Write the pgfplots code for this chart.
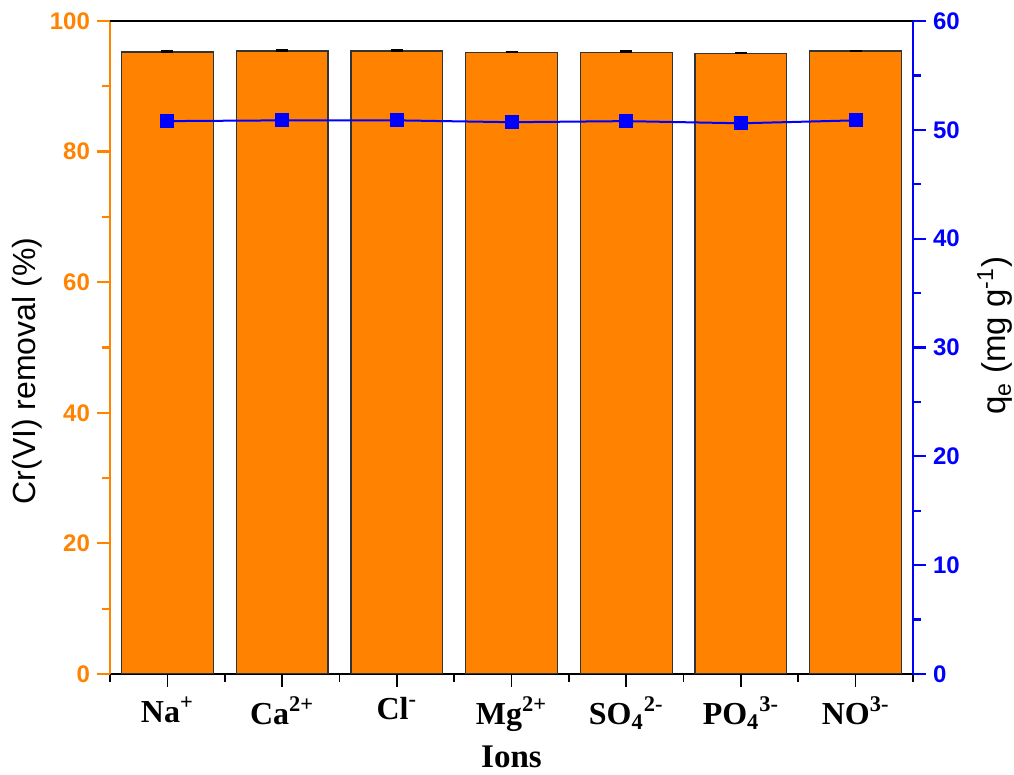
\documentclass[border=0pt]{standalone}
\usepackage{pgfplots}
\pgfplotsset{compat=1.18}
\usepackage{fontspec}
\setmainfont{Liberation Sans}
\newfontfamily\timesfont{Liberation Serif}
\definecolor{barorange}{RGB}{255,131,0}
\definecolor{qblue}{RGB}{0,0,255}
\begin{document}
\begin{tikzpicture}
\pgfplotsset{
  every axis/.append style={
    width=401.5pt, height=326.5pt, scale only axis,
    xmin=-0.5, xmax=6.5,
    /pgf/number format/assume math mode=true,
    tick align=outside,
    major tick length=6.5pt, minor tick length=4pt,
  },
}
\begin{axis}[
  name=main,
  ymin=0, ymax=100,
  ytick={0,20,...,100},
  minor ytick={10,30,50,70,90},
  axis x line*=bottom, axis y line*=left,
  x axis line style={-, black, line width=1pt},
  y axis line style={-, barorange, line width=1pt},
  ytick style={draw=barorange, line width=1.1pt},
  minor tick style={line width=1.1pt},
  xtick style={draw=black, line width=0.8pt},
  yticklabel style={text=barorange, font=\bfseries\fontsize{12}{14}\selectfont},
  xtick={0,...,6},
  minor xtick={-0.5,0.5,...,6.5},
  xticklabels={Na\textsuperscript{+}, Ca\textsuperscript{2+}, Cl\textsuperscript{-}, Mg\textsuperscript{2+}, SO\textsubscript{4}\textsuperscript{2-}, PO\textsubscript{4}\textsuperscript{3-}, NO\textsuperscript{3-}},
  xticklabel style={font=\timesfont\bfseries\fontsize{16}{19}\selectfont, text=black, yshift=-1.5pt},
  xlabel={Ions},
  xlabel style={font=\timesfont\bfseries\fontsize{16.5}{19}\selectfont, at={(axis description cs:0.5,-0.127)}, anchor=center},
  ylabel={Cr(VI) removal (\%)},
  ylabel style={font=\fontsize{16}{19}\selectfont, at={(axis description cs:-0.103,0.464)}, anchor=center},
]
\addplot[ybar, bar width=0.8, fill=barorange, draw=black!80, line width=0.6pt,
  error bars/.cd, y dir=plus, y explicit,
  error bar style={black, line width=1pt},
  error mark options={black, line width=1.2pt, mark size=3pt, rotate=90}]
coordinates {
(0,95.25) +- (0,0.1)
(1,95.4) +- (0,0.1)
(2,95.4) +- (0,0.05)
(3,95.15) +- (0,0.1)
(4,95.2) +- (0,0.1)
(5,95.0) +- (0,0.12)
(6,95.4) +- (0,0.02)
};
\end{axis}
\begin{axis}[
  ymin=0, ymax=60,
  ytick={0,10,...,60},
  minor ytick={5,15,...,55},
  axis y line*=right, axis x line*=top,
  xtick=\empty,
  x axis line style={-, black, line width=1pt},
  y axis line style={-, qblue, line width=1pt},
  ytick style={draw=qblue, line width=1.1pt},
  minor tick style={line width=1.1pt},
  yticklabel style={text=qblue, font=\bfseries\fontsize{12}{14}\selectfont},
  ylabel={q\textsubscript{e} (mg g\textsuperscript{-1})},
  ylabel style={font=\fontsize{16.5}{19}\selectfont, at={(axis description cs:1.102,0.518)}, anchor=center},
]
\addplot[qblue, line width=1pt, mark=square*, mark size=3pt, mark options={fill=qblue}]
coordinates {
(0,50.8)
(1,50.87)
(2,50.87)
(3,50.7)
(4,50.8)
(5,50.6)
(6,50.87)
};
\end{axis}
\pgfresetboundingbox
\path ([shift={(-55pt,-50pt)}]main.south west) rectangle ([shift={(50.5pt,10.5pt)}]main.north east);
\end{tikzpicture}
\end{document}
